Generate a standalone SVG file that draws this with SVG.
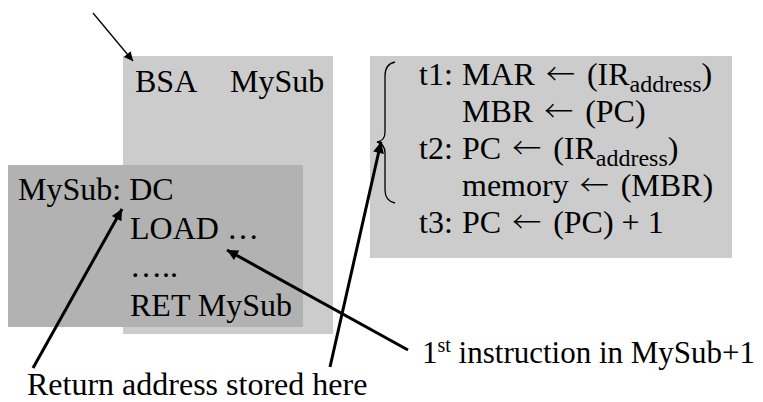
<svg xmlns="http://www.w3.org/2000/svg" width="763" height="402" viewBox="0 0 763 402">
  <style>
    text { font-family: "Liberation Serif", "Times New Roman", serif; font-size: 32px; fill: #000; }
    .sub { font-size: 24px; }
    .sup { font-size: 20px; }
    .arr { font-family: "Noto Sans CJK JP", "DejaVu Sans", sans-serif; font-size: 29px; font-weight: 300; }
    .light { fill: #cccccc; }
    .dark { fill: #b2b2b2; }
    .thin { stroke: #000; stroke-width: 1.3; fill: none; }
    .thick { stroke: #000; stroke-width: 3; fill: none; }
  </style>
  <defs>
    <marker id="headSmall" viewBox="0 0 10 10" refX="10" refY="5" markerWidth="11" markerHeight="9" markerUnits="userSpaceOnUse" orient="auto">
      <path d="M0,0 L10,5 L0,10 z" fill="#000"/>
    </marker>
    <marker id="headBig" viewBox="0 0 10 10" refX="10" refY="5" markerWidth="14" markerHeight="11" markerUnits="userSpaceOnUse" orient="auto">
      <path d="M0,0 L10,5 L0,10 z" fill="#000"/>
    </marker>
  </defs>

  <!-- calling program -->
  <g id="caller">
    <rect class="light" x="123" y="56" width="210" height="278"/>
    <text x="135" y="92">BSA</text>
    <text x="230" y="92">MySub</text>
  </g>

  <!-- subroutine body -->
  <g id="subroutine">
    <rect class="dark" x="8" y="165" width="295" height="162"/>
    <text x="18" y="200">MySub: DC</text>
    <text x="130" y="239">LOAD …</text>
    <text x="130" y="277">…..</text>
    <text x="130" y="316">RET MySub</text>
  </g>

  <!-- micro-operations of BSA -->
  <g id="microops">
    <rect class="light" x="370" y="56" width="362" height="202"/>
    <path class="thin" d="M395,62 Q385,64 385,76 L385,132 Q385,141 377,142 Q385,144 385,153 L385,190 Q385,201 395,203"/>
    <text x="419" y="85">t1:</text>
    <text x="462" y="85">MAR <tspan class="arr" dx="3">←</tspan><tspan dx="4"> (IR</tspan><tspan class="sub" dy="7">address</tspan><tspan dy="-7">)</tspan></text>
    <text x="462" y="122">MBR <tspan class="arr" dx="3">←</tspan><tspan dx="4"> (PC)</tspan></text>
    <text x="419" y="159">t2:</text>
    <text x="462" y="159">PC <tspan class="arr" dx="3">←</tspan><tspan dx="4"> (IR</tspan><tspan class="sub" dy="7">address</tspan><tspan dy="-7">)</tspan></text>
    <text x="462" y="196">memory <tspan class="arr" dx="3">←</tspan><tspan dx="4"> (MBR)</tspan></text>
    <text x="419" y="233">t3:</text>
    <text x="462" y="233">PC <tspan class="arr" dx="3">←</tspan><tspan dx="4"> (PC) + 1</tspan></text>
  </g>

  <!-- annotations -->
  <g id="note-return">
    <text x="27" y="395">Return address stored here</text>
  </g>
  <g id="note-first">
    <text x="422" y="363" style="font-size:31px">1<tspan class="sup" dy="-11">st</tspan><tspan dy="11"> instruction in MySub+1</tspan></text>
  </g>

  <!-- connectors -->
  <g id="connectors">
    <line class="thin" x1="93" y1="13" x2="133" y2="61" marker-end="url(#headSmall)"/>
    <line class="thick" x1="33" y1="368" x2="122" y2="209" marker-end="url(#headBig)"/>
    <line class="thick" x1="330" y1="367" x2="381" y2="142" marker-end="url(#headBig)"/>
    <line class="thick" x1="408" y1="350" x2="227" y2="250" marker-end="url(#headBig)"/>
  </g>
</svg>
